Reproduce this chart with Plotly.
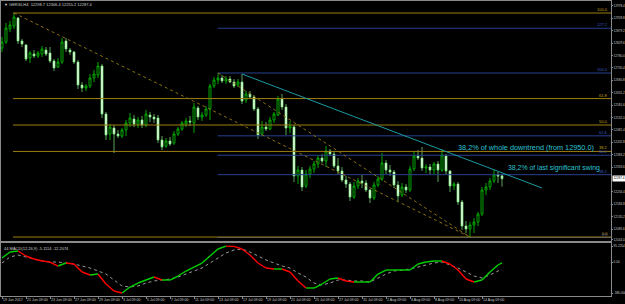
import plotly.graph_objects as go

# ---------------- data ----------------
bar_open = [12810, 12834, 12886, 12898, 12930, 12838, 12822, 12770, 12786, 12778,
            12786, 12802, 12790, 12758, 12734, 12754, 12838, 12802, 12794, 12754,
            12662, 12650, 12658, 12690, 12702, 12738, 12546, 12466, 12490, 12466,
            12458, 12482, 12510, 12526, 12506, 12522, 12502, 12542, 12534, 12530,
            12442, 12418, 12438, 12430, 12466, 12486, 12506, 12518, 12510, 12570,
            12534, 12542, 12566, 12658, 12682, 12690, 12678, 12686, 12674, 12662,
            12674, 12602, 12626, 12614, 12566, 12466, 12494, 12486, 12522, 12542,
            12606, 12574, 12490, 12494, 12298, 12322, 12258, 12306, 12326, 12346,
            12370, 12358, 12398, 12386, 12338, 12318, 12282, 12266, 12214, 12258,
            12278, 12270, 12242, 12210, 12262, 12286, 12350, 12322, 12314, 12262,
            12222, 12254, 12242, 12326, 12378, 12370, 12330, 12334, 12322, 12346,
            12322, 12378, 12318, 12258, 12266, 12194, 12098, 12086, 12102, 12114,
            12146, 12242, 12254, 12278, 12302, 12298.7]
bar_high = [12854, 12910, 12918, 12950, 12934, 12846, 12826, 12798, 12802, 12798,
            12818, 12814, 12814, 12766, 12770, 12850, 12850, 12810, 12798, 12762,
            12674, 12666, 12706, 12722, 12754, 12746, 12554, 12506, 12502, 12482,
            12490, 12522, 12550, 12542, 12534, 12538, 12562, 12554, 12546, 12542,
            12458, 12450, 12454, 12478, 12494, 12518, 12530, 12538, 12590, 12578,
            12554, 12578, 12666, 12694, 12710, 12702, 12698, 12698, 12686, 12686,
            12706, 12638, 12638, 12622, 12574, 12518, 12514, 12534, 12554, 12618,
            12626, 12586, 12518, 12502, 12338, 12334, 12322, 12338, 12358, 12382,
            12386, 12418, 12406, 12394, 12370, 12334, 12298, 12274, 12274, 12290,
            12302, 12282, 12246, 12274, 12298, 12390, 12362, 12342, 12322, 12278,
            12270, 12266, 12338, 12398, 12402, 12414, 12346, 12346, 12354, 12358,
            12406, 12386, 12322, 12274, 12274, 12202, 12118, 12114, 12130, 12154,
            12254, 12270, 12290, 12326, 12314, 12306.4]
bar_low = [12794, 12826, 12874, 12886, 12826, 12814, 12758, 12750, 12770, 12770,
           12774, 12778, 12750, 12718, 12730, 12746, 12794, 12782, 12746, 12646,
           12634, 12638, 12650, 12674, 12690, 12530, 12442, 12442, 12390, 12450,
           12450, 12458, 12494, 12494, 12490, 12490, 12494, 12514, 12510, 12430,
           12402, 12410, 12418, 12422, 12458, 12478, 12494, 12498, 12470, 12522,
           12518, 12534, 12522, 12650, 12666, 12670, 12666, 12670, 12650, 12654,
           12586, 12590, 12606, 12558, 12446, 12458, 12478, 12482, 12510, 12538,
           12562, 12462, 12470, 12274, 12266, 12238, 12250, 12290, 12310, 12330,
           12350, 12334, 12378, 12330, 12306, 12274, 12250, 12198, 12206, 12246,
           12250, 12234, 12190, 12202, 12254, 12278, 12306, 12298, 12250, 12198,
           12214, 12230, 12234, 12318, 12362, 12318, 12310, 12306, 12306, 12274,
           12314, 12306, 12234, 12242, 12182, 12082, 12070, 12054, 12070, 12098,
           12138, 12222, 12242, 12270, 12270, 12255.2]
bar_close = [12834, 12890, 12902, 12934, 12838, 12826, 12766, 12790, 12778, 12790,
             12806, 12786, 12758, 12730, 12754, 12834, 12806, 12794, 12754, 12662,
             12650, 12658, 12690, 12706, 12738, 12546, 12462, 12494, 12466, 12458,
             12482, 12510, 12530, 12506, 12522, 12502, 12546, 12534, 12526, 12442,
             12414, 12438, 12426, 12466, 12486, 12510, 12518, 12514, 12574, 12534,
             12542, 12566, 12658, 12682, 12690, 12678, 12686, 12674, 12658, 12674,
             12598, 12626, 12614, 12566, 12462, 12494, 12486, 12522, 12546, 12606,
             12574, 12490, 12498, 12298, 12322, 12254, 12306, 12326, 12346, 12370,
             12358, 12398, 12386, 12338, 12318, 12282, 12266, 12214, 12258, 12278,
             12270, 12242, 12210, 12262, 12286, 12350, 12322, 12314, 12262, 12218,
             12254, 12242, 12326, 12378, 12370, 12330, 12334, 12322, 12346, 12322,
             12382, 12318, 12258, 12266, 12194, 12098, 12086, 12102, 12114, 12146,
             12242, 12254, 12278, 12302, 12298, 12287.4]

macd_bars = list(range(0, 126, 2)) + [125]
macd_main = [24, 60, 66, 36, 18, 6, 0, -24, -6, -12, -60, -78, -72, -132, -174, -186,
             -150, -126, -108, -90, -108, -108, -84, -54, -30, -6, 36, 78, 95.2254, 94,
             78, 42, -6, -36, -42, -42, -60, -114, -156, -156, -132, -102, -96, -114,
             -120, -120, -120, -72, -48, -48, -48, -48, -12, 0, 6, 6, -12, -48, -102,
             -120, -108, -60, -18, -5.1114]
macd_signal = [-6, 30, 42, 30, 18, 6, 0, 0, -6, -12, -24, -36, -54, -72, -108, -144,
               -150, -144, -126, -114, -108, -102, -90, -72, -54, -36, -6, 24, 54, 72,
               78, 60, 36, 12, -6, -24, -36, -66, -90, -126, -138, -126, -108, -108,
               -114, -114, -120, -96, -72, -54, -48, -42, -30, -18, -6, 0, -18, -36,
               -60, -84, -96, -78, -54, -45]

date_labels = ["19 Jun 2017", "21 Jun 09:00", "23 Jun 09:00", "27 Jun 09:00", "29 Jun 09:00",
               "3 Jul 09:00", "5 Jul 09:00", "7 Jul 09:00", "11 Jul 09:00", "13 Jul 09:00",
               "17 Jul 09:00", "19 Jul 09:00", "21 Jul 09:00", "25 Jul 09:00", "27 Jul 09:00",
               "31 Jul 09:00", "2 Aug 09:00", "4 Aug 09:00", "8 Aug 09:00", "10 Aug 09:00",
               "14 Aug 09:00"]
date_label_bars = [0, 6, 12, 18, 24, 30, 36, 42, 48, 54, 60, 66, 72, 78, 84, 90, 96,
                   102, 108, 114, 120]

price_ticks = [12978.4, 12928.8, 12879.2, 12829.6, 12780.0, 12730.4, 12680.8, 12631.2,
               12581.6, 12532.0, 12482.4, 12432.8, 12383.2, 12333.6, 12234.4,
               12184.8, 12135.2, 12085.6, 12044.0]
macd_ticks = [95.2254, 0.0, -186.004]
macd_tick_text = ["95.2254", "0.00", "-186.004"]

fib_levels_gold = [0.0, 38.2, 50.0, 61.8, 100.0]
fib_gold_high, fib_gold_low, fib_gold_start = 12950.0, 12054.0, 3
fib_levels_blue = [0.0, 38.2, 50.0, 61.8, 100.0, 127.2]
fib_blue_high, fib_blue_low, fib_blue_start = 12710.0, 12052.0, 54

trend1 = ([3, 117], [12950.0, 12054.0])       # dotted
trend2 = ([54, 117], [12710.0, 12054.0])      # dotted
trend3 = ([60, 135], [12706.0, 12250.0])      # cyan

title_text = "▼ GER30,H4  12298.7 12306.4 12255.2 12287.4"
macd_title = "44 MACD(12,26,9) -5.1114 -12.2074"
note1 = ("38,2% of whole downtrend (from 12950.0)", 113.75, 12414)
note2 = ("38,2% of last significant swing", 126.3, 12330)

# ---------------- style ----------------
GOLD = "#9c7e12"
BLUE = "#27408f"
CYAN_LINE = "#1c9aa4"
CYAN_TEXT = "#2cc4d4"
GRAY = "#8a8a8a"
FONT = "Liberation Sans"
XR = [-0.25, 152.25]
TICKFONT = dict(family=FONT, size=3.1, color="#c8c8c8")

fig = go.Figure()

fig.add_trace(go.Candlestick(
    x=list(range(len(bar_open))), open=bar_open, high=bar_high, low=bar_low, close=bar_close,
    increasing=dict(line=dict(color="#00b400", width=0.9), fillcolor="#000000"),
    decreasing=dict(line=dict(color="#7ee87e", width=0.7), fillcolor="#f0fff0"),
    whiskerwidth=0, hoverinfo="skip", xaxis="x", yaxis="y", showlegend=False))

# MACD coloured by slope
gx, gy, rx, ry = [], [], [], []
for k in range(len(macd_bars) - 1):
    seg_x = [macd_bars[k], macd_bars[k + 1], None]
    seg_y = [macd_main[k], macd_main[k + 1], None]
    if macd_main[k + 1] >= macd_main[k]:
        gx += seg_x; gy += seg_y
    else:
        rx += seg_x; ry += seg_y
fig.add_trace(go.Scatter(x=macd_bars, y=macd_signal, mode="lines",
                         line=dict(color="#9a9a9a", width=1, dash="dot"),
                         xaxis="x2", yaxis="y2", hoverinfo="skip", showlegend=False))
fig.add_trace(go.Scatter(x=gx, y=gy, mode="lines", line=dict(color="#00d000", width=1.4),
                         xaxis="x2", yaxis="y2", hoverinfo="skip", showlegend=False,
                         connectgaps=False))
fig.add_trace(go.Scatter(x=rx, y=ry, mode="lines", line=dict(color="#ff0000", width=1.4),
                         xaxis="x2", yaxis="y2", hoverinfo="skip", showlegend=False,
                         connectgaps=False))

shapes = []
annotations = []
for lv in fib_levels_blue:
    p = fib_blue_low + (fib_blue_high - fib_blue_low) * lv / 100.0
    shapes.append(dict(type="line", xref="x", yref="y", x0=fib_blue_start - 0.1, x1=XR[1],
                       y0=p, y1=p, line=dict(color=BLUE, width=1)))
    annotations.append(dict(x=151.8, y=p, xref="x", yref="y", text=f"{lv:.1f}",
                            xanchor="right", yanchor="bottom", showarrow=False, borderpad=0,
                            font=dict(family=FONT, size=4, color="#3a5cc0")))
for lv in fib_levels_gold:
    p = fib_gold_low + (fib_gold_high - fib_gold_low) * lv / 100.0
    shapes.append(dict(type="line", xref="x", yref="y", x0=fib_gold_start - 0.25, x1=XR[1],
                       y0=p, y1=p, line=dict(color=GOLD, width=1)))
    annotations.append(dict(x=151.8, y=p, xref="x", yref="y", text=f"{lv:.1f}",
                            xanchor="right", yanchor="bottom", showarrow=False, borderpad=0,
                            font=dict(family=FONT, size=4, color="#c8a41c")))
for (xs, ys) in (trend1, trend2):
    shapes.append(dict(type="line", xref="x", yref="y", x0=xs[0], x1=xs[1], y0=ys[0], y1=ys[1],
                       line=dict(color="#8c7010", width=1, dash="dot")))
shapes.append(dict(type="line", xref="x", yref="y", x0=trend3[0][0], x1=trend3[0][1],
                   y0=trend3[1][0], y1=trend3[1][1], line=dict(color=CYAN_LINE, width=1)))

annotations.append(dict(x=note1[1], y=note1[2], xref="x", yref="y", text=note1[0],
                        xanchor="left", yanchor="middle", showarrow=False, borderpad=0,
                        font=dict(family=FONT, size=7.3, color=CYAN_TEXT)))
annotations.append(dict(x=note2[1], y=note2[2], xref="x", yref="y", text=note2[0],
                        xanchor="left", yanchor="middle", showarrow=False, borderpad=0,
                        font=dict(family=FONT, size=6.9, color=CYAN_TEXT)))

annotations.append(dict(x=0.004, y=0.998, xref="paper", yref="paper", text=title_text,
                        xanchor="left", yanchor="top", showarrow=False, borderpad=0,
                        font=dict(family=FONT, size=4, color="#d0d0d0")))
annotations.append(dict(x=0.004, y=0.172, xref="paper", yref="paper", text=macd_title,
                        xanchor="left", yanchor="top", showarrow=False, borderpad=0,
                        font=dict(family=FONT, size=4, color="#d0d0d0")))
# current price box
annotations.append(dict(x=1.0, y=bar_close[-1], xref="paper", yref="y", xshift=1,
                        text=f"{bar_close[-1]:.1f}", xanchor="left", yanchor="middle",
                        showarrow=False, bgcolor="#ffffff", borderpad=0.4,
                        font=dict(family=FONT, size=3.1, color="#000000")))

axis_common = dict(showgrid=False, zeroline=False, showline=True, mirror=True,
                   linecolor=GRAY, linewidth=1, automargin=False)
fig.update_layout(
    width=625, height=304,
    margin=dict(l=1, r=14, t=0, b=8, autoexpand=False),
    paper_bgcolor="#000000", plot_bgcolor="#000000",
    showlegend=False,
    shapes=shapes, annotations=annotations,
    xaxis=dict(domain=[0, 1], range=XR, anchor="y", showticklabels=False, ticks="",
               rangeslider=dict(visible=False), matches="x2", **axis_common),
    yaxis=dict(domain=[0.18581, 0.99662], range=[12038, 12998], side="right",
               tickmode="array", tickvals=price_ticks, ticktext=[f"{v:.1f}" for v in price_ticks],
               ticks="outside", ticklen=1, tickcolor=GRAY, ticklabelstandoff=0,
               tickfont=TICKFONT, **axis_common),
    xaxis2=dict(domain=[0, 1], range=XR, anchor="y2", tickmode="array",
                tickvals=date_label_bars, ticktext=date_labels, ticks="outside", ticklen=2,
                tickcolor=GRAY, ticklabelposition="outside right", tickangle=0,
                tickfont=dict(family=FONT, size=3.6, color="#c8c8c8"), **axis_common),
    yaxis2=dict(domain=[0, 0.17905], range=[-204, 114], side="right", tickmode="array",
                tickvals=macd_ticks, ticktext=macd_tick_text, ticks="outside", ticklen=1,
                tickcolor=GRAY, ticklabelstandoff=0, tickfont=TICKFONT, **axis_common),
)

fig.write_html("out.html")
